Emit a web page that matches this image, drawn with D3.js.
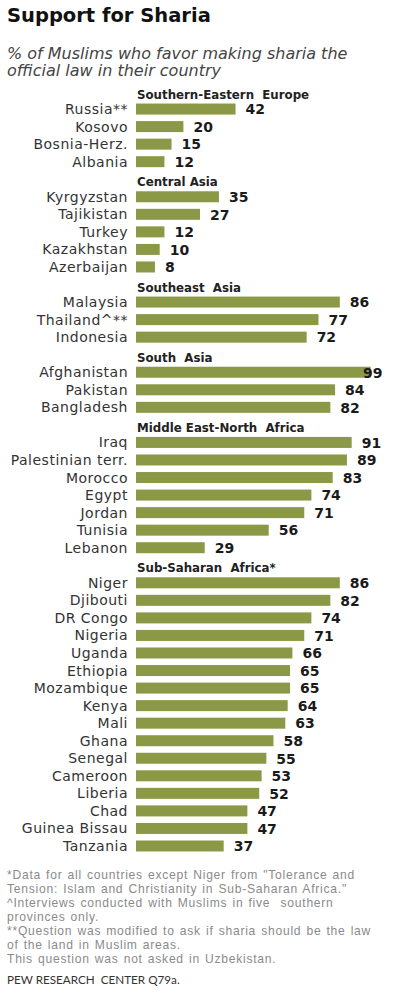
<!DOCTYPE html>
<html lang="en">
<head>
    <meta charset="UTF-8">
    <title>Support for Sharia</title>
    <script src="https://d3js.org/d3.v7.min.js"></script>
    <style>
        body { margin: 0; background: #fff; }
        text { white-space: pre; }
    </style>
</head>
<body>
    <svg id="chart" width="394" height="1000"></svg>

    <script>
        // Datos
        var regions = ["Southern-Eastern  Europe", "Central Asia", "Southeast  Asia",
                       "South  Asia", "Middle East-North  Africa", "Sub-Saharan  Africa*"];
        var groupSizes = [4, 5, 3, 3, 7, 16];
        var countries = ["Russia**", "Kosovo", "Bosnia-Herz.", "Albania",
                         "Kyrgyzstan", "Tajikistan", "Turkey", "Kazakhstan", "Azerbaijan",
                         "Malaysia", "Thailand^**", "Indonesia",
                         "Afghanistan", "Pakistan", "Bangladesh",
                         "Iraq", "Palestinian terr.", "Morocco", "Egypt", "Jordan", "Tunisia", "Lebanon",
                         "Niger", "Djibouti", "DR Congo", "Nigeria", "Uganda", "Ethiopia", "Mozambique",
                         "Kenya", "Mali", "Ghana", "Senegal", "Cameroon", "Liberia", "Chad",
                         "Guinea Bissau", "Tanzania"];
        var values = [42, 20, 15, 12,
                      35, 27, 12, 10, 8,
                      86, 77, 72,
                      99, 84, 82,
                      91, 89, 83, 74, 71, 56, 29,
                      86, 82, 74, 71, 66, 65, 65, 64, 63, 58, 55, 53, 52, 47, 47, 37];
        var footnotes = [
            "*Data for all countries except Niger from \"Tolerance and",
            "Tension: Islam and Christianity in Sub-Saharan Africa.\"",
            "^Interviews conducted with Muslims in five  southern",
            "provinces only.",
            "**Question was modified to ask if sharia should be the law",
            "of the land in Muslim areas.",
            "This question was not asked in Uzbekistan."
        ];

        var svg = d3.select("#chart");

        // Construir las filas: cabecera de región + países
        var rows = [];
        var k = 0;
        regions.forEach(function(r, gi) {
            rows.push({ key: "h" + gi, heading: r });
            for (var i = 0; i < groupSizes[gi]; i++) {
                rows.push({ key: "c" + k, country: countries[k], value: values[k] });
                k++;
            }
        });

        var y = d3.scalePoint()
            .domain(rows.map(d => d.key))
            .range([91.5, 846]);

        var x = d3.scaleLinear()
            .domain([0, 100])
            .range([136, 373]);

        var barH = 11;

        // Título
        svg.append("text")
            .attr("x", 7)
            .attr("y", 22)
            .attr("font-family", "DejaVu Sans")
            .attr("font-weight", "bold")
            .attr("font-size", "19.5px")
            .attr("fill", "#111")
            .text("Support for Sharia");

        // Subtítulo
        var sub = svg.append("text")
            .attr("font-family", "DejaVu Sans")
            .attr("font-style", "italic")
            .attr("font-size", "16px")
            .attr("fill", "#444");
        sub.append("tspan").attr("x", 7).attr("y", 59).text("% of Muslims who favor making sharia the");
        sub.append("tspan").attr("x", 7).attr("y", 76).text("official law in their country");

        // Cabeceras
        svg.selectAll(".heading")
            .data(rows.filter(d => d.heading))
            .enter().append("text")
            .attr("class", "heading")
            .attr("x", 137)
            .attr("y", d => y(d.key) + 7)
            .attr("font-family", "DejaVu Sans")
            .attr("font-weight", "bold")
            .attr("font-size", "11.8px")
            .attr("fill", "#222")
            .text(d => d.heading);

        var data = rows.filter(d => d.country);

        // Barras
        svg.selectAll(".bar")
            .data(data)
            .enter().append("rect")
            .attr("class", "bar")
            .attr("x", x(0))
            .attr("y", d => y(d.key) - barH / 2)
            .attr("width", d => x(d.value) - x(0))
            .attr("height", barH)
            .attr("fill", "#8b9947");

        // Etiquetas de países
        svg.selectAll(".label")
            .data(data)
            .enter().append("text")
            .attr("class", "label")
            .attr("x", 128)
            .attr("y", d => y(d.key))
            .attr("dy", "0.36em")
            .attr("text-anchor", "end")
            .attr("font-family", "DejaVu Sans")
            .attr("font-size", "14px")
            .attr("letter-spacing", "0.5px")
            .attr("fill", "#333")
            .text(d => d.country);

        // Valores
        svg.selectAll(".value")
            .data(data)
            .enter().append("text")
            .attr("class", "value")
            .attr("x", d => Math.min(x(d.value) + 10, 363))
            .attr("y", d => y(d.key))
            .attr("dy", "0.38em")
            .attr("font-family", "DejaVu Sans")
            .attr("font-weight", "bold")
            .attr("font-size", "14px")
            .attr("fill", "#1a1a1a")
            .text(d => d.value);

        // Notas
        svg.selectAll(".note")
            .data(footnotes)
            .enter().append("text")
            .attr("class", "note")
            .attr("x", 7)
            .attr("y", (d, i) => 879 + i * 14)
            .attr("font-family", "Liberation Sans")
            .attr("font-size", "12.1px")
            .attr("letter-spacing", "0.75px")
            .attr("word-spacing", "1px")
            .attr("fill", "#8a8a8a")
            .text(d => d);

        svg.append("text")
            .attr("x", 7)
            .attr("y", 984)
            .attr("font-family", "Lato")
            .attr("font-size", "11.7px")
            .attr("fill", "#333")
            .text("PEW RESEARCH  CENTER Q79a.");
    </script>
</body>
</html>
